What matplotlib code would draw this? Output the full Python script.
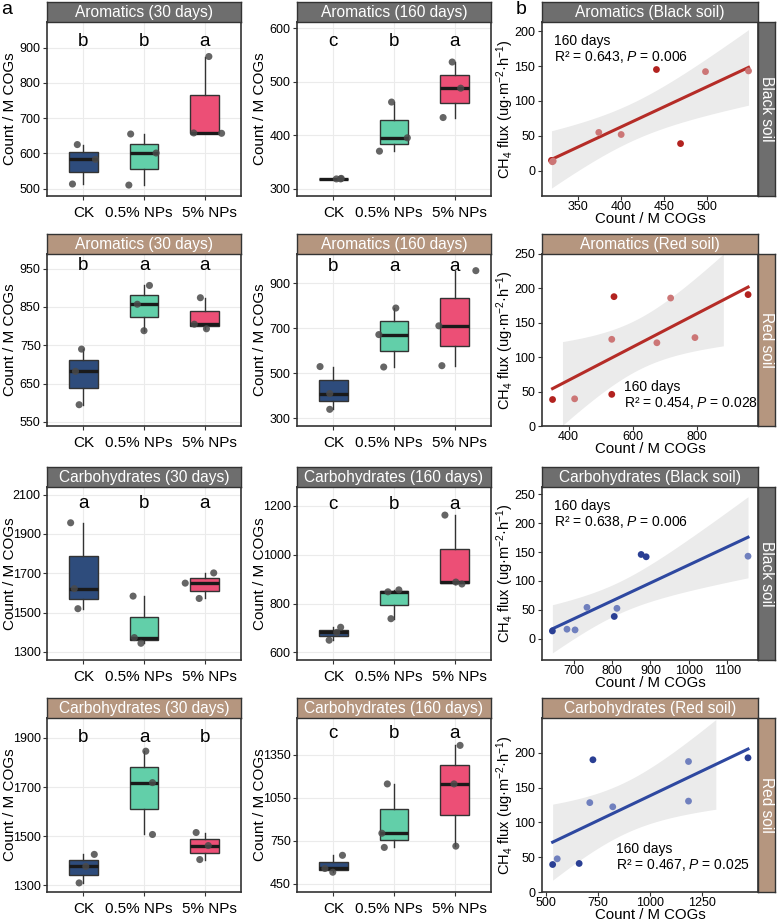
import numpy as np
import matplotlib
matplotlib.use("Agg")
import matplotlib.pyplot as plt
from matplotlib.transforms import ScaledTranslation

plt.rcParams['font.family'] = ['Liberation Sans', 'DejaVu Sans']
plt.rcParams['mathtext.fontset'] = 'custom'
plt.rcParams['mathtext.rm'] = 'Liberation Sans'
plt.rcParams['mathtext.it'] = 'Liberation Sans:italic'
plt.rcParams['mathtext.bf'] = 'Liberation Sans:bold'

# ---- data ----
groups = ["CK", "0.5% NPs", "5% NPs"]

# box panels: three replicates per group, with jitter offsets of the dots
arom30_black = [[625, 583, 513], [655, 601, 510], [875, 658, 657]]
arom30_black_jit = [[-0.1, 0.2, -0.18], [-0.22, 0.2, -0.25], [0.07, -0.18, 0.28]]
arom160_black = [[318, 318, 319], [462, 395, 370], [537, 488, 433]]
arom160_black_jit = [[0.05, 0.12, 0.13], [-0.04, 0.22, -0.24], [-0.04, 0.1, -0.19]]
arom30_red = [[740, 682, 595], [906, 857, 788], [874, 805, 793]]
arom30_red_jit = [[-0.03, -0.13, -0.07], [0.09, -0.11, 0.0], [-0.07, -0.17, 0.03]]
arom160_red = [[530, 410, 340], [790, 672, 528], [956, 711, 534]]
arom160_red_jit = [[-0.22, -0.06, -0.06], [0.03, -0.25, -0.17], [0.35, -0.26, -0.21]]
carb30_black = [[1957, 1622, 1520], [1584, 1373, 1344], [1702, 1650, 1572]]
carb30_black_jit = [[-0.21, -0.15, -0.09], [-0.18, -0.16, -0.05], [0.15, -0.32, -0.09]]
carb160_black = [[703, 682, 650], [856, 848, 738], [1162, 888, 880]]
carb160_black_jit = [[0.12, 0.055, -0.07], [0.08, -0.1, -0.05], [-0.16, 0.02, 0.12]]
carb30_red = [[1426, 1377, 1310], [1846, 1718, 1507], [1515, 1462, 1405]]
carb30_red_jit = [[0.18, 0.04, -0.07], [0.03, 0.14, 0.14], [-0.14, 0.06, -0.08]]
carb160_red = [[648, 556, 530], [1146, 802, 703], [1415, 1146, 712]]
carb160_red_jit = [[0.15, -0.14, -0.01], [-0.11, -0.2, -0.16], [0.09, -0.01, 0.02]]

letters_arom30_black = ["b", "b", "a"]
letters_arom160_black = ["c", "b", "a"]
letters_arom30_red = ["b", "a", "a"]
letters_arom160_red = ["b", "a", "a"]
letters_carb30_black = ["a", "b", "a"]
letters_carb160_black = ["c", "b", "a"]
letters_carb30_red = ["b", "a", "b"]
letters_carb160_red = ["c", "b", "a"]

# scatter panels: count vs CH4 flux (160 days)
arom_black_x = [319, 320, 321, 374, 400, 441, 469, 498, 548]
arom_black_y = [15, 13, 14, 55, 52, 145, 39, 142, 143]
arom_black_dark = [1, 0, 0, 0, 0, 1, 1, 0, 0]
arom_red_x = [350, 419, 535, 542, 535, 676, 719, 795, 961]
arom_red_y = [38.5, 39.5, 126, 188, 46, 121, 186, 128.5, 191]
arom_red_dark = [1, 0, 0, 1, 1, 0, 0, 0, 1]
carb_black_x = [645, 683, 704, 735, 806, 813, 876, 889, 1154]
carb_black_y = [13.4, 16.4, 15.2, 54.3, 38.5, 52.6, 146, 142, 143]
carb_black_dark = [1, 0, 0, 0, 1, 0, 1, 1, 0]
carb_red_x = [532, 554, 659, 710, 725, 820, 1183, 1183, 1468]
carb_red_y = [39.5, 47.7, 41, 128.4, 190, 122.4, 187.5, 130.6, 192.8]
carb_red_dark = [1, 0, 1, 0, 1, 0, 0, 0, 1]

stats_arom_black = "R² = 0.643, $\\it{P}$ = 0.006"
stats_arom_red = "R² = 0.454, $\\it{P}$ = 0.028"
stats_carb_black = "R² = 0.638, $\\it{P}$ = 0.006"
stats_carb_red = "R² = 0.467, $\\it{P}$ = 0.025"

# ---- style ----
W, H = 778, 922
box_colors = ["#2E4C7C", "#62CFA9", "#EC4F76"]
grey_strip = "#6E6E6E"
brown_strip = "#B5967F"
edge = "#333333"
T975 = 2.365  # t quantile, df = 7

fig = plt.figure(figsize=(W / 100, H / 100), dpi=100)


def px_axes(x0, y0, x1, y1):
    return fig.add_axes([x0 / W, 1 - y1 / H, (x1 - x0) / W, (y1 - y0) / H])


def add_strip(x0, y0, x1, y1, text, color, rotation=0):
    sax = px_axes(x0, y0, x1, y1)
    sax.set_facecolor(color)
    sax.set_xticks([])
    sax.set_yticks([])
    for s in sax.spines.values():
        s.set_color(edge)
        s.set_linewidth(1)
    sax.text(0.5, 0.5, text, color="white", ha="center", va="center",
             fontsize=11.2, rotation=rotation, transform=sax.transAxes)


def style_axes(ax):
    for s in ax.spines.values():
        s.set_color(edge)
        s.set_linewidth(1.2)
    ax.tick_params(length=3, width=0.8, color=edge, labelsize=9,
                   labelcolor="black", pad=2)


def box_panel(ax, vals, jit, letters, ylim, yticks, letter_y):
    bp = ax.boxplot(vals, positions=[1, 2, 3], widths=0.47, patch_artist=True,
                    showcaps=False, showfliers=False,
                    medianprops=dict(color="#1A1A1A", linewidth=2.4),
                    boxprops=dict(edgecolor=edge, linewidth=1),
                    whiskerprops=dict(color=edge, linewidth=1))
    for patch, c in zip(bp["boxes"], box_colors):
        patch.set_facecolor(c)
    for i in range(3):
        xs = [i + 1 + j for j in jit[i]]
        ax.scatter(xs, vals[i], s=26, color="#4A4A4A", alpha=0.85,
                   edgecolors="none", zorder=4)
        ax.text(i + 1, letter_y, letters[i], ha="center", va="center",
                fontsize=13.5)
    ax.set_xlim(0.4, 3.6)
    ax.set_ylim(ylim)
    ax.set_yticks(yticks)
    ax.set_xticks([1, 2, 3], groups)
    ax.grid(color="#EBEBEB", linewidth=0.8)
    ax.set_axisbelow(True)
    style_axes(ax)
    ax.tick_params(axis="x", labelsize=11, pad=4)
    ax.tick_params(axis="y", pad=1.5)
    # the two long labels sit a little apart from each other, as in the original
    for lbl, dx in zip(ax.get_xticklabels(), [0, -5, 5]):
        lbl.set_transform(lbl.get_transform() + ScaledTranslation(dx / 100, 0, fig.dpi_scale_trans))
    ax.set_ylabel("Count / M COGs", fontsize=11, va="baseline")
    ax.yaxis.set_label_coords(-0.1711, 0.5)


def scatter_panel(ax, x, y, dark, cdark, clight, cline, xlim, ylim, xticks,
                  yticks, clip, stats, tx, ty):
    x = np.array(x, float)
    y = np.array(y, float)
    slope, icpt = np.polyfit(x, y, 1)
    xs = np.linspace(x.min(), x.max(), 80)
    yhat = icpt + slope * xs
    resid = y - (icpt + slope * x)
    s = np.sqrt(np.sum(resid ** 2) / (len(x) - 2))
    se = s * np.sqrt(1 / len(x) + (xs - x.mean()) ** 2 / np.sum((x - x.mean()) ** 2))
    lo, hi = yhat - T975 * se, yhat + T975 * se
    ok = np.ones_like(xs, bool)
    if clip:
        ok = (lo >= ylim[0]) & (hi <= ylim[1])
    ax.fill_between(xs, lo, hi, where=ok, color="#EBEBEB", linewidth=0, zorder=1)
    ax.plot(xs, yhat, color=cline, linewidth=2.2, zorder=2)
    cols = [cdark if d else clight for d in dark]
    ax.scatter(x, y, s=24, c=cols, edgecolors="none", zorder=3)
    ax.set_xlim(xlim)
    ax.set_ylim(ylim)
    ax.set_xticks(xticks)
    ax.set_yticks(yticks)
    style_axes(ax)
    ax.tick_params(axis="x", pad=0.5)
    ax.set_xlabel("Count / M COGs", fontsize=10.8, va="baseline")
    ax.xaxis.set_label_coords(0.5, -0.156)
    ax.set_ylabel("CH$_4$ flux (ug·m$^{-2}$·h$^{-1}$)", fontsize=10.5, va="center")
    ax.yaxis.set_label_coords(-0.17, 0.5)
    ax.text(tx, ty, "160 days", transform=ax.transAxes, fontsize=10,
            ha="left", va="center")
    ax.text(tx, ty - 0.092, stats, transform=ax.transAxes, fontsize=10,
            ha="left", va="center")


rows = [(2, 22, 196), (234, 254, 426), (467, 487, 660), (698, 718, 892)]
c1, c2, c3, cs = (47, 241), (297, 491), (542, 758), (758, 775)

box_specs = [
    (0, c1, "Aromatics (30 days)", grey_strip, arom30_black, arom30_black_jit,
     letters_arom30_black, (479, 973), range(500, 901, 100), 919),
    (0, c2, "Aromatics (160 days)", grey_strip, arom160_black, arom160_black_jit,
     letters_arom160_black, (286, 612), range(300, 601, 100), 576),
    (1, c1, "Aromatics (30 days)", brown_strip, arom30_red, arom30_red_jit,
     letters_arom30_red, (539.5, 988), range(550, 951, 100), 959),
    (1, c2, "Aromatics (160 days)", brown_strip, arom160_red, arom160_red_jit,
     letters_arom160_red, (266, 1030), range(300, 901, 200), 974),
    (2, c1, "Carbohydrates (30 days)", grey_strip, carb30_black, carb30_black_jit,
     letters_carb30_black, (1259, 2139), range(1300, 2101, 200), 2054),
    (2, c2, "Carbohydrates (160 days)", grey_strip, carb160_black, carb160_black_jit,
     letters_carb160_black, (569, 1277), range(600, 1201, 200), 1207),
    (3, c1, "Carbohydrates (30 days)", brown_strip, carb30_red, carb30_red_jit,
     letters_carb30_red, (1273, 1981), range(1300, 1901, 200), 1900),
    (3, c2, "Carbohydrates (160 days)", brown_strip, carb160_red, carb160_red_jit,
     letters_carb160_red, (392, 1606), range(450, 1351, 300), 1495),
]

for r, (xa, xb), title, scol, vals, jit, lets, ylim, yt, ly in box_specs:
    st, pt, pb = rows[r]
    ax = px_axes(xa, pt, xb, pb)
    box_panel(ax, vals, jit, lets, ylim, list(yt), ly)
    add_strip(xa, st, xb, pt, title, scol)

red_dark, red_light, red_line = "#B2221F", "#CC7676", "#B52C27"
blue_dark, blue_light, blue_line = "#2A3F94", "#7080BE", "#2E48A0"

scatter_specs = [
    (0, "Aromatics (Black soil)", "Black soil", grey_strip, arom_black_x, arom_black_y,
     arom_black_dark, red_dark, red_light, red_line, (308, 559), (-36, 213),
     [350, 400, 450, 500], range(0, 201, 50), False, stats_arom_black, 0.057, 0.891),
    (1, "Aromatics (Red soil)", "Red soil", brown_strip, arom_red_x, arom_red_y,
     arom_red_dark, red_dark, red_light, red_line, (317, 992), (0, 250),
     [400, 600, 800], range(0, 251, 50), True, stats_arom_red, 0.381, 0.225),
    (2, "Carbohydrates (Black soil)", "Black soil", grey_strip, carb_black_x, carb_black_y,
     carb_black_dark, blue_dark, blue_light, blue_line, (618, 1180), (-37, 263),
     [700, 800, 900, 1000, 1100], range(0, 251, 50), False, stats_carb_black, 0.057, 0.891),
    (3, "Carbohydrates (Red soil)", "Red soil", brown_strip, carb_red_x, carb_red_y,
     carb_red_dark, blue_dark, blue_light, blue_line, (481, 1516), (0, 250),
     [500, 750, 1000, 1250], range(0, 201, 50), True, stats_carb_red, 0.343, 0.245),
]

for (r, title, side, scol, x, y, dark, cd, cl, cline, xlim, ylim, xt, yt, clip,
     stats, tx, ty) in scatter_specs:
    st, pt, pb = rows[r]
    ax = px_axes(c3[0], pt, c3[1], pb)
    scatter_panel(ax, x, y, dark, cd, cl, cline, xlim, ylim, xt, list(yt), clip,
                  stats, tx, ty)
    add_strip(c3[0], st, c3[1], pt, title, scol)
    add_strip(cs[0], pt, cs[1], pb, side, scol, rotation=-90)

fig.text(7 / W, 1 - 10 / H, "a", fontsize=14, ha="center", va="center")
fig.text(521 / W, 1 - 10 / H, "b", fontsize=14, ha="center", va="center")

fig.savefig("out.png", dpi=100)
